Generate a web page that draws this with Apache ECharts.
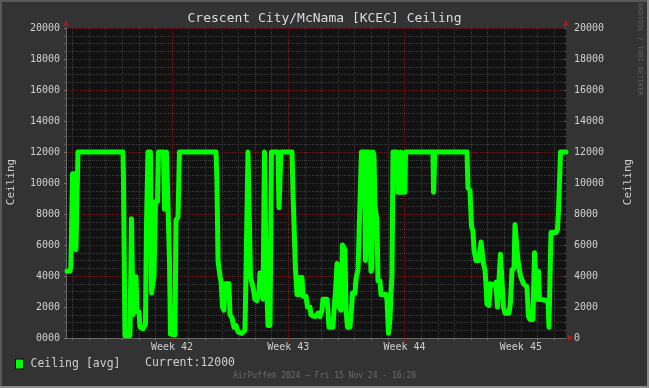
<!DOCTYPE html>
<html><head><meta charset="utf-8">
<script src="https://cdn.jsdelivr.net/npm/echarts@6/dist/echarts.min.js"></script>
<style>html,body{margin:0;padding:0;background:#333333;}#c{width:649px;height:388px;}</style>
</head><body><div id="c"></div>
<script>
// x = hours relative to the start of Week 42
const hours = [
-151.7,-147.4,-146.0,-144.5,-143.7,-140.1,-138.7,-136.5,-135.8,-70.8,-70.1,-68.6,-67.9,-60.7,-59.9,-58.5,-57.1,-56.3,-54.9,-52.0,
-50.6,-47.7,-46.2,-41.9,-38.3,-36.8,-35.4,-34.7,-31.1,-29.6,-27.4,-26.0,-23.8,-20.9,-19.5,-12.3,-10.8,-9.4,-7.9,-5.1,
-3.6,-2.2,4.3,5.8,8.7,10.8,63.6,65.0,66.5,69.3,70.8,73.0,75.1,76.6,82.3,83.8,86.7,89.6,92.5,95.3,
101.1,105.5,107.6,109.8,111.2,113.4,115.6,117.0,119.9,122.8,125.7,127.1,130.0,131.5,133.6,135.8,138.7,141.6,143.7,153.1,
154.6,156.0,157.4,173.4,174.8,177.0,178.4,180.6,183.5,184.9,187.8,189.2,193.6,195.7,199.4,200.8,205.1,208.0,210.9,213.8,
216.7,218.1,223.9,225.4,226.8,232.6,234.0,236.2,238.4,239.8,241.2,244.1,246.3,248.5,249.9,251.4,253.5,257.1,258.6,260.8,
264.4,265.8,268.7,270.1,272.3,273.7,278.1,279.5,281.0,284.6,286.0,287.5,288.9,290.4,291.8,293.3,296.1,297.6,300.5,301.9,
309.1,310.6,312.8,314.9,316.4,317.8,319.3,325.0,326.5,329.4,330.8,332.3,336.6,337.3,377.0,377.8,379.2,379.9,426.2,427.6,
430.5,432.7,434.8,436.3,439.2,443.5,446.4,448.5,450.0,452.2,453.6,455.0,457.9,460.1,466.6,468.0,470.2,472.4,474.5,476.7,
478.9,481.1,486.8,489.0,491.2,494.1,495.5,497.7,499.8,502.0,503.4,505.6,507.8,512.8,515.0,517.2,521.5,523.7,525.1,527.3,
529.5,530.9,533.1,543.2,544.6,546.1,547.5,554.7,556.9,558.4,560.5,561.3,569.2
];
const ceiling = [
4300,4300,4600,4600,10600,10600,5700,5700,12000,12000,10400,10400,150,150,150,7700,7700,1500,3950,3950,
1700,1700,700,600,900,7400,7400,12000,12000,2900,2900,4000,8800,8800,12000,12000,8300,8300,12000,12000,
5000,250,200,7600,7800,12000,12000,10000,5000,4000,3700,2000,1800,3500,3500,1500,1300,700,800,400,
300,500,500,12000,12000,3950,3900,3300,2500,2400,3000,4200,4200,2500,12000,4900,800,800,12000,12000,
8400,8400,12000,12000,9400,9400,4400,2800,2800,3900,3900,2700,2700,2000,2000,1500,1400,1400,1600,1400,
1800,2500,2500,1700,700,700,1800,3000,4800,4800,2000,1800,6000,6000,5700,1800,700,700,1500,2900,
2900,3800,4400,6500,6500,12000,12000,5000,12000,12000,7000,4300,4500,12000,11800,8500,7600,3700,3700,2800,
2800,2500,300,1200,2900,4000,12000,12000,9400,9400,12000,9400,9400,12000,12000,9400,9400,12000,12000,9700,
9500,7200,6900,5700,5000,5000,6200,6100,4800,4400,3500,2200,2100,3500,3400,3600,2000,2000,5400,5400,
2000,1600,1600,2300,4400,4500,7300,7300,5000,5000,4000,3900,3500,3300,1400,1200,1200,5500,5500,2500,
4300,2500,2400,2400,700,700,6800,6800,7000,8200,8300,12000,12000
];
const dayTicks = [-144,-120,-96,-72,-48,-24,24,48,72,96,120,144,192,216,240,264,288,312,360,384,408,432,456,480,528,552];
const weekTicks = [0,168,336,504];
const weekLabels = ['Week 42','Week 43','Week 44','Week 45'];
const xMin = -153.1, xMax = 569.2;
const yMin = 0, yMax = 20000, yStep = 2000;
const seriesName = 'Ceiling [avg]';
const titleText = 'Crescent City/McNama [KCEC] Ceiling';
const footerText = 'AirPuffe\u00AE 2024 \u2013 Fri 15 Nov 24 - 16:28';

const MONO = "'DejaVu Sans Mono', monospace";
const GRAY_GRID = '#3e3e3e';
const RED_GRID = '#622424';
const AXIS_C = '#6a6a6a';
const ARROW_C = '#a51c1c';
const TXT = '#d0d0d0';

const data = hours.map((h, i) => [h, ceiling[i]]);
const arrowLine = {show: true, onZero: false, lineStyle: {color: ARROW_C, width: 0},
  symbol: ['none', 'triangle'], symbolSize: [6, 6], symbolOffset: [0, 5]};

const chart = echarts.init(document.getElementById('c'), null, {renderer: 'canvas'});
chart.setOption({
  animation: false,
  backgroundColor: '#333333',
  title: [
    {text: titleText, left: 'center', top: 12, padding: 0,
     textStyle: {color: '#dddddd', fontFamily: MONO, fontSize: 13, fontWeight: 'normal'}},
    {text: footerText, left: 'center', top: 372, padding: 0,
     textStyle: {color: '#6c6c6c', fontFamily: MONO, fontSize: 8, fontWeight: 'normal'}}
  ],
  legend: {
    data: [seriesName], left: 15, top: 358, padding: 0, icon: 'rect',
    itemWidth: 8, itemHeight: 10,
    itemStyle: {color: '#00ff00', borderColor: '#000000', borderWidth: 1},
    textStyle: {color: TXT, fontFamily: MONO, fontSize: 11.5, padding: [0, 0, 0, 2]}
  },
  grid: {left: 66, top: 28, width: 500, height: 310, show: true, backgroundColor: '#121212', borderWidth: 0},
  xAxis: [
    {type: 'value', min: xMin, max: xMax, position: 'bottom',
     axisLine: {show: true, onZero: false, lineStyle: {color: AXIS_C, width: 1}},
     axisTick: {show: true, customValues: dayTicks, length: 2, lineStyle: {color: '#777777'}},
     axisLabel: {show: false},
     splitLine: {show: true, lineStyle: {color: GRAY_GRID, type: [1, 1], width: 1}}},
    {type: 'value', min: xMin, max: xMax, position: 'bottom',
     axisLine: arrowLine,
     axisTick: {show: true, customValues: weekTicks, length: 3, lineStyle: {color: '#8a2a2a'}},
     axisLabel: {show: true, customValues: weekTicks, margin: 4, color: TXT, fontFamily: MONO, fontSize: 10,
       formatter: v => weekLabels[weekTicks.indexOf(v)] || ''},
     splitLine: {show: true, lineStyle: {color: RED_GRID, type: [1, 1], width: 1}}}
  ],
  yAxis: [
    {type: 'value', min: yMin, max: yMax, interval: yStep, position: 'left',
     axisLine: {show: true, onZero: false, lineStyle: {color: AXIS_C, width: 1}},
     axisTick: {show: true, length: 2, lineStyle: {color: '#777777'}},
     minorTick: {show: true, splitNumber: 4, length: 2, lineStyle: {color: '#555555'}},
     axisLabel: {color: TXT, fontFamily: MONO, fontSize: 10, margin: 6,
       formatter: v => v === 0 ? '0000' : String(v)},
     splitLine: {show: true, lineStyle: {color: RED_GRID, type: [1, 1], width: 1}},
     minorSplitLine: {show: true, lineStyle: {color: GRAY_GRID, type: [1, 1], width: 1}}},
    {type: 'value', min: yMin, max: yMax, interval: yStep, position: 'right',
     axisLine: arrowLine,
     axisTick: {show: true, length: 2, inside: true, lineStyle: {color: '#666666'}},
     minorTick: {show: true, splitNumber: 4, length: 2, inside: true, lineStyle: {color: '#4a4a4a'}},
     axisLabel: {color: TXT, fontFamily: MONO, fontSize: 10, margin: 8, formatter: v => String(v)},
     splitLine: {show: false}},
    {type: 'value', min: yMin, max: yMax, interval: yStep, position: 'left',
     axisLine: arrowLine, axisTick: {show: false}, axisLabel: {show: false}, splitLine: {show: false}}
  ],
  series: [{
    name: seriesName, type: 'line', xAxisIndex: 0, yAxisIndex: 0, data: data,
    showSymbol: false, symbol: 'none', silent: true,
    itemStyle: {color: '#00ff00'},
    lineStyle: {color: '#00ff00', width: 5, join: 'round', cap: 'round'}
  }],
  graphic: [
    {type: 'rect', shape: {x: 0, y: 0, width: 649, height: 2}, style: {fill: '#595959'}, silent: true},
    {type: 'rect', shape: {x: 0, y: 0, width: 2, height: 388}, style: {fill: '#595959'}, silent: true},
    {type: 'rect', shape: {x: 647, y: 0, width: 2, height: 388}, style: {fill: '#8c8c8c'}, silent: true},
    {type: 'rect', shape: {x: 0, y: 386, width: 649, height: 2}, style: {fill: '#8c8c8c'}, silent: true},
    {type: 'text', x: 11, y: 182, rotation: Math.PI / 2, silent: true,
     style: {text: 'Ceiling', fill: TXT, font: '11px ' + MONO, textAlign: 'center', verticalAlign: 'middle'}},
    {type: 'text', x: 628, y: 182, rotation: Math.PI / 2, silent: true,
     style: {text: 'Ceiling', fill: TXT, font: '11px ' + MONO, textAlign: 'center', verticalAlign: 'middle'}},
    {type: 'text', x: 640, y: 3, rotation: -Math.PI / 2, silent: true,
     style: {text: 'RRDTOOL / TOBI OETIKER', fill: '#5f5f5f', font: '7px ' + MONO, textAlign: 'left', verticalAlign: 'middle'}},
    {type: 'text', x: 145, y: 363, silent: true,
     style: {text: 'Current:' + ceiling[ceiling.length - 1], fill: TXT, font: '11.5px ' + MONO, textAlign: 'left', verticalAlign: 'middle'}}
  ]
});
</script>
</body></html>
